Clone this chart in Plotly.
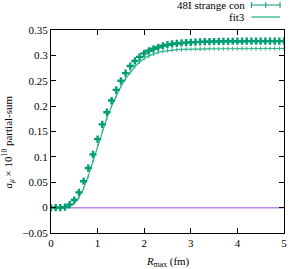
import plotly.graph_objects as go

# --- data ---
r_data = [round(0.1 * i, 1) for i in range(51)]
a_data = [0.0, 0.0, 0.0, 0.001, 0.006, 0.015, 0.030, 0.052, 0.078, 0.105,
          0.135, 0.164, 0.188, 0.211, 0.232, 0.250, 0.265, 0.279, 0.289, 0.297,
          0.304, 0.309, 0.313, 0.316, 0.319, 0.321, 0.3225, 0.3235, 0.3245, 0.3252,
          0.3258, 0.3262, 0.3266, 0.3269, 0.3271, 0.3273, 0.3275, 0.3276, 0.3277, 0.3278,
          0.3279, 0.3279, 0.3280, 0.3280, 0.3280, 0.3281, 0.3281, 0.3281, 0.3281, 0.3281, 0.3281]
a_err = [0.0005] * 51

r_fit = [round(0.1 * i, 1) for i in range(51)]
a_fit = [0.0, 0.0, 0.0, 0.0005, 0.003, 0.009, 0.020, 0.038, 0.062, 0.092,
         0.122, 0.151, 0.177, 0.200, 0.221, 0.239, 0.254, 0.267, 0.278, 0.287,
         0.294, 0.299, 0.303, 0.306, 0.308, 0.3095, 0.3105, 0.3112, 0.3117, 0.3121,
         0.3124, 0.3126, 0.3128, 0.3129, 0.3130, 0.3131, 0.3132, 0.3132, 0.3133, 0.3133,
         0.3133, 0.3134, 0.3134, 0.3134, 0.3134, 0.3134, 0.3135, 0.3135, 0.3135, 0.3135, 0.3135]

r_zero = [0.0, 5.0]
a_zero = [0.0, 0.0]

x_ticks = [0, 1, 2, 3, 4, 5]
y_ticks = [-0.05, 0, 0.05, 0.1, 0.15, 0.2, 0.25, 0.3, 0.35]
y_ticktext = ["\u22120.05", "0", "0.05", "0.1", "0.15", "0.2", "0.25", "0.3", "0.35"]

legend_labels = ["48I strange con", "fit3"]

GREEN = "#009e73"
FITGREEN = "#2bb38c"
PURPLE = "#bf84e6"
FONT = "Liberation Serif, DejaVu Serif, serif"

fig = go.Figure()

fig.add_trace(go.Scatter(x=r_zero, y=a_zero, mode="lines",
                         line=dict(color=PURPLE, width=1.5), showlegend=False))
fig.add_trace(go.Scatter(x=r_fit, y=a_fit, mode="lines+markers",
                         line=dict(color=FITGREEN, width=1.2),
                         marker=dict(symbol="line-ns", size=3,
                                     line=dict(color=FITGREEN, width=1)),
                         showlegend=False))
fig.add_trace(go.Scatter(x=r_data, y=a_data, mode="markers",
                         marker=dict(symbol="cross", size=6, color=GREEN,
                                     line=dict(width=0)),
                         error_y=dict(type="data", array=a_err, color=GREEN,
                                      thickness=1, width=1.5),
                         showlegend=False))

# legend drawn manually (text left, sample right)
rows_y = [1.123, 1.064]
for lab, yy in zip(legend_labels, rows_y):
    fig.add_annotation(x=0.84, y=yy, xref="paper", yref="paper", text=lab,
                       showarrow=False, xanchor="right", yanchor="middle",
                       font=dict(family=FONT, size=11, color="black"))
fig.add_shape(type="line", xref="paper", yref="paper", x0=0.86, x1=0.983,
              y0=rows_y[0], y1=rows_y[0], line=dict(color=GREEN, width=1))
for xx in [0.86, 0.9215, 0.983]:
    fig.add_shape(type="line", xref="paper", yref="paper", x0=xx, x1=xx,
                  y0=rows_y[0] - 0.015, y1=rows_y[0] + 0.015,
                  line=dict(color=GREEN, width=1))
fig.add_shape(type="line", xref="paper", yref="paper", x0=0.86, x1=0.983,
              y0=rows_y[1], y1=rows_y[1], line=dict(color=FITGREEN, width=1.3))

# axis titles
fig.add_annotation(x=0.5, y=-0.143, xref="paper", yref="paper",
                   text="<i>R</i><sub>max</sub> (fm)", showarrow=False,
                   xanchor="center", yanchor="middle",
                   font=dict(family=FONT, size=11, color="black"))
fig.add_annotation(x=-0.185, y=0.45, xref="paper", yref="paper",
                   text="<i>a</i><sub><i>\u03bc</i></sub> \u00d7 10<sup>10</sup> partial-sum",
                   showarrow=False, textangle=-90,
                   xanchor="center", yanchor="middle",
                   font=dict(family=FONT, size=11, color="black"))

axis_common = dict(showgrid=False, zeroline=False, ticks="inside", ticklen=5,
                   tickcolor="black", showline=True, linecolor="black",
                   linewidth=1, mirror="ticks",
                   tickfont=dict(family=FONT, size=11, color="black"))

fig.update_xaxes(range=[0, 5], tickvals=x_ticks, ticktext=[str(t) for t in x_ticks],
                 **axis_common)
fig.update_yaxes(range=[-0.05, 0.35], tickvals=y_ticks, ticktext=y_ticktext,
                 **axis_common)

fig.update_layout(width=291, height=269, margin=dict(l=51, r=4, t=30, b=36),
                  plot_bgcolor="white", paper_bgcolor="white", showlegend=False)

fig.write_html("out.html", config={"displayModeBar": False},
               post_script="document.body.style.margin='0';document.body.style.overflow='hidden';")
